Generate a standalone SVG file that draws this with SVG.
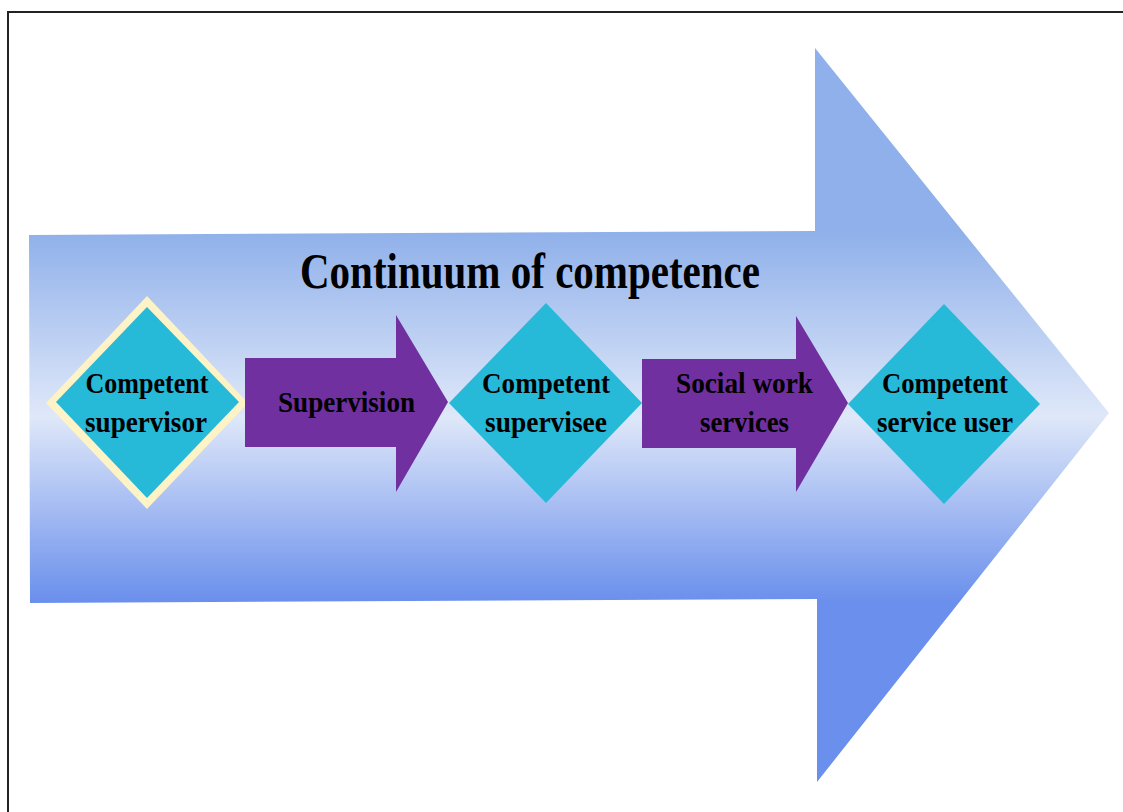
<svg xmlns="http://www.w3.org/2000/svg" width="1123" height="812" viewBox="0 0 1123 812">
<defs>
<linearGradient id="bg" gradientUnits="userSpaceOnUse" x1="0" y1="231" x2="0" y2="602">
<stop offset="0" stop-color="#8fb0ea"/>
<stop offset="0.5" stop-color="#dfe8f9"/>
<stop offset="1" stop-color="#6a8fec"/>
</linearGradient>
<style>
.lbl{font-family:"Liberation Serif","Times New Roman",serif;font-weight:bold;font-size:30px;fill:#000;text-anchor:middle}
.title{font-family:"Liberation Serif","Times New Roman",serif;font-weight:bold;font-size:50px;fill:#000;text-anchor:middle}
.dia{fill:#27b9d8}
.arr{fill:#7030a0}
</style>
</defs>
<rect width="1123" height="812" fill="#fff"/>
<rect x="8" y="12" width="1140" height="830" fill="none" stroke="#222" stroke-width="2"/>
<g id="big-arrow">
<polygon points="29,235 815,231 815,48 1109,413 817,782 817,599 30,603" fill="url(#bg)"/>
<text class="title" x="530" y="288" textLength="460" lengthAdjust="spacingAndGlyphs">Continuum of competence</text>
</g>
<g id="node-supervisor">
<polygon points="147,296 248,403 147,509 46,403" fill="#fdf3c6"/>
<polygon class="dia" points="147,307 239,402 147,498 56,402"/>
<text class="lbl" x="147" y="393" textLength="123" lengthAdjust="spacingAndGlyphs">Competent</text>
<text class="lbl" x="146" y="432" textLength="122" lengthAdjust="spacingAndGlyphs">supervisor</text>
</g>
<g id="connectors">
<g id="conn-supervision">
<polygon class="arr" points="245,358 396,358 396,315 448,402 396,492 396,447 245,447"/>
<text class="lbl" x="346.5" y="412" textLength="137" lengthAdjust="spacingAndGlyphs">Supervision</text>
</g>
<g id="conn-services">
<polygon class="arr" points="642,359 796,359 796,316 848,403 796,492 796,448 642,448"/>
<text class="lbl" x="744.5" y="393" textLength="137" lengthAdjust="spacingAndGlyphs">Social work</text>
<text class="lbl" x="744.5" y="432" textLength="89" lengthAdjust="spacingAndGlyphs">services</text>
</g>
</g>
<g id="node-supervisee">
<polygon class="dia" points="546,303 642,403 546,503 449,403"/>
<text class="lbl" x="546" y="393" textLength="128" lengthAdjust="spacingAndGlyphs">Competent</text>
<text class="lbl" x="546" y="432" textLength="122" lengthAdjust="spacingAndGlyphs">supervisee</text>
</g>
<g id="node-service-user">
<polygon class="dia" points="944,304 1040,404 944,504 848,404"/>
<text class="lbl" x="945" y="393" textLength="126" lengthAdjust="spacingAndGlyphs">Competent</text>
<text class="lbl" x="945" y="432" textLength="136" lengthAdjust="spacingAndGlyphs">service user</text>
</g>
</svg>
